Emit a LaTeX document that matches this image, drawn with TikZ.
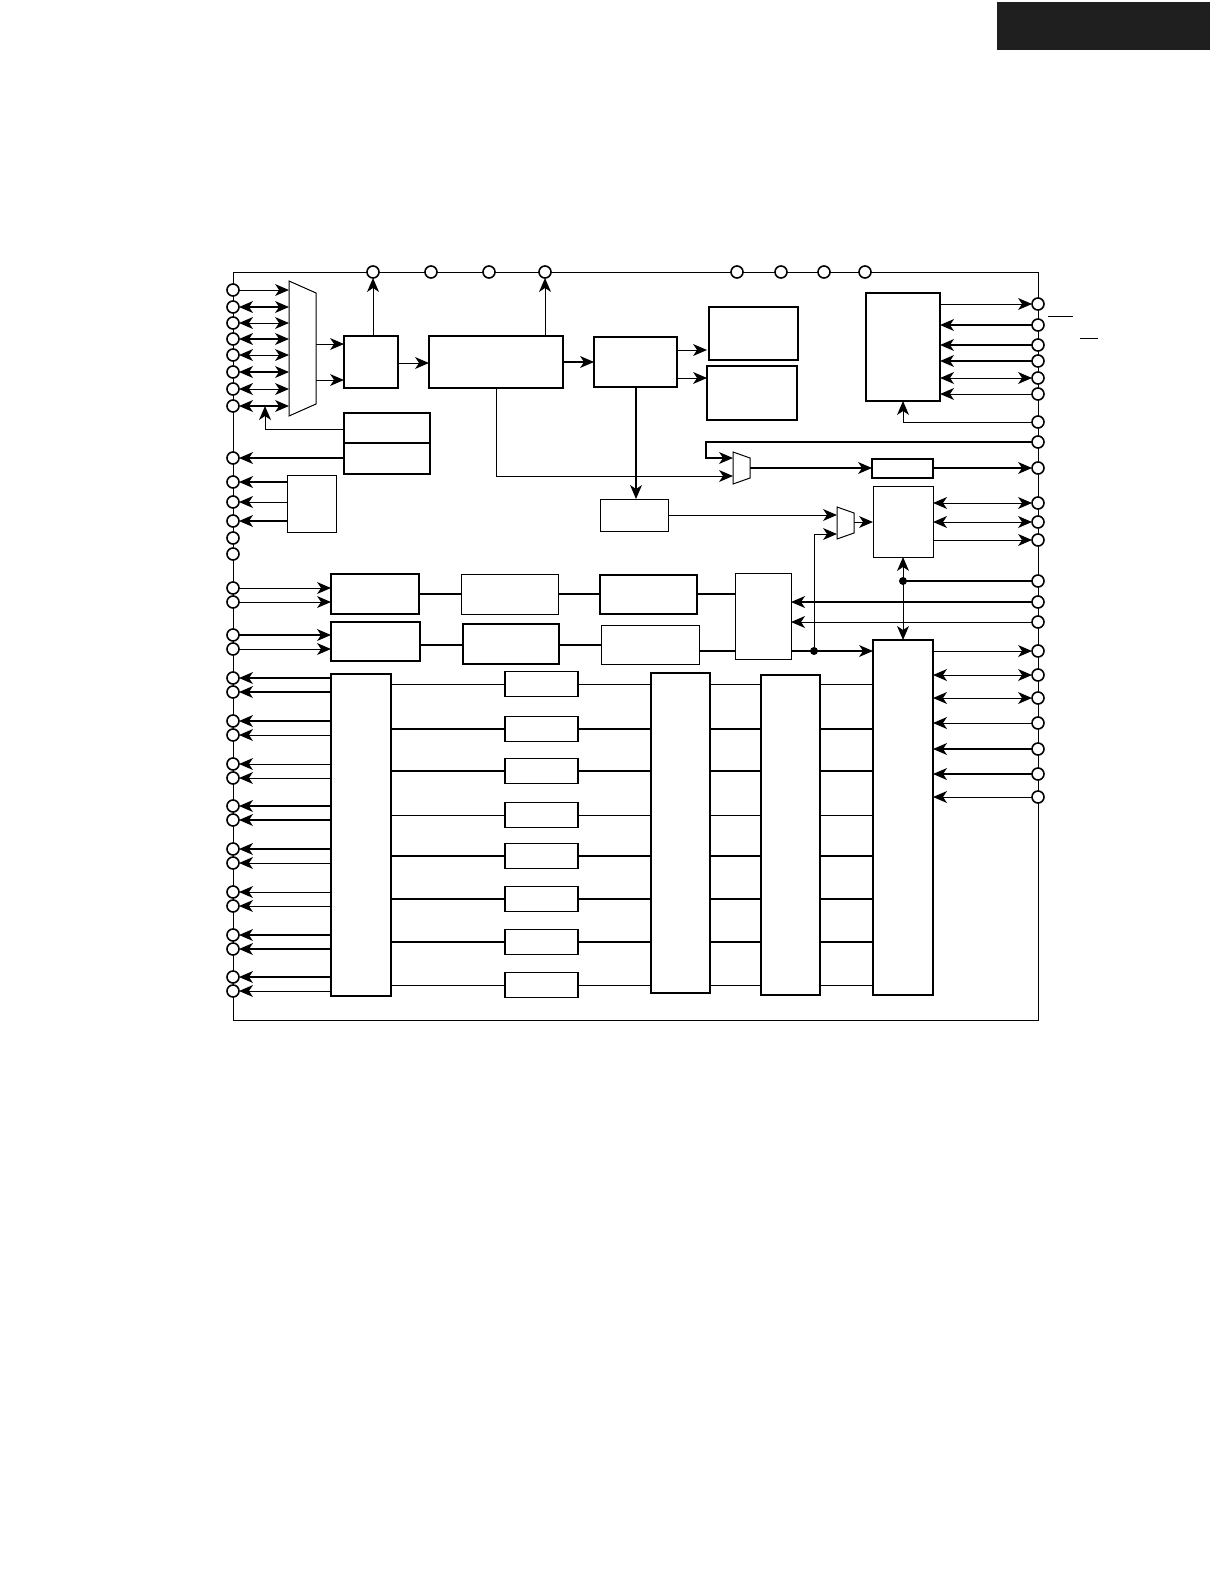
\documentclass[tikz,border=0pt]{standalone}
\usetikzlibrary{arrows.meta}
\begin{document}
\begin{tikzpicture}[x=1bp,y=-1bp,
  tn/.style={line width=1pt},
  tk/.style={line width=2.2pt},
  bx/.style={line width=1.7pt},
  >={Stealth[length=14bp,width=12bp,inset=4bp,line width=0pt]},
  pin/.style={circle,draw,line width=1.6pt,fill=white,minimum size=12bp,inner sep=0pt}]
\useasboundingbox (0,0) rectangle (1226,1586);
\fill[black!88] (997,2) rectangle (1210,50);
\draw[tn] (1048,316)--(1073,316) (1080,338)--(1098,338);
% border
\draw[tn] (233,272) rectangle (1038,1020);
% mux1
\draw[tn] (289,281)--(316,293)--(316,404)--(289,416)--cycle;
\draw[tn,->] (239,290)--(289,290);
\foreach \y/\s in {307/tk,323/tn,339/tk,355/tn,372/tk,389/tn,406/tk}{\draw[\s,<->] (239,\y)--(289,\y);}
% block A,B,C
\draw[bx] (344,336) rectangle (398,388);
\draw[tn,->] (316,344)--(344,344);
\draw[tn,->] (316,380)--(344,380);
\draw[tn,->] (373,336)--(373,278);
\draw[tn,->] (398,363)--(429,363);
\draw[bx] (429,336) rectangle (563,388);
\draw[tn,->] (545,336)--(545,278);
\draw[tk,->] (563,362)--(594,362);
\draw[bx] (594,337) rectangle (677,387);
\draw[tn,->] (677,350)--(707,350);
\draw[tn,->] (677,378)--(707,378);
\draw[bx] (709,307) rectangle (798,360);
\draw[bx] (707,366) rectangle (797,420);
\draw[tn] (496,388)--(496,476);
\draw[tn,->] (496,476)--(733,476);
\draw[tk,->] (636,387)--(636,499);
\draw[tn] (600,499) rectangle (668,531);
% blocks near left
\draw[bx] (344,413) rectangle (430,443);
\draw[bx] (344,443) rectangle (430,474);
\draw[tn,->] (344,429)--(265,429)--(265,406);
\draw[tk,->] (344,458)--(239,458);
\draw[tn] (287,475) rectangle (336,532);
\draw[tk,->] (287,482)--(239,482);
\draw[tn,->] (287,502)--(239,502);
\draw[tk,->] (287,521)--(239,521);
% mux2
\draw[tn] (733,452)--(750,458)--(750,478)--(733,484)--cycle;
\draw[tk,->] (1032,442)--(706,442)--(706,458)--(733,458);
\draw[tk,->] (750,468)--(872,468);
\draw[bx] (872,459) rectangle (933,478);
\draw[tk,->] (933,468)--(1032,468);
% mux3
\draw[tn] (837,507)--(854,513)--(854,533)--(837,539)--cycle;
\draw[tn,->] (668,515)--(837,515);
\draw[tn,->] (814,651)--(814,534)--(837,534);
\draw[tn,->] (854,522)--(873,522);
\draw[tn] (873,486) rectangle (933,557);
\draw[tn,<->] (933,503)--(1032,503);
\draw[tn,<->] (933,522)--(1032,522);
\draw[tn,->] (933,540)--(1032,540);
% block I
\draw[bx] (866,293) rectangle (940,401);
\draw[tn,->] (940,304)--(1032,304);
\draw[tk,->] (1032,325)--(940,325);
\draw[tk,->] (1032,345)--(940,345);
\draw[tk,->] (1032,361)--(940,361);
\draw[tn,<->] (940,378)--(1032,378);
\draw[tn,->] (1032,394)--(940,394);
\draw[tn,->] (1032,422)--(903,422)--(903,401);
% vertical double arrow & dot
\draw[tn,<->] (903,557)--(903,640);
\fill (903,581) circle (4bp);
\draw[tk] (903,581)--(1032,581);
% K
\draw[tn] (735,573) rectangle (791,659);
\draw[tk,->] (1032,602)--(791,602);
\draw[tn,->] (1032,622)--(791,622);
\draw[tk,->] (791,651)--(873,651);
\fill (814,651) circle (4bp);
% rows
\draw[bx] (331,574) rectangle (419,614);
\draw[tn] (461,574) rectangle (558,614);
\draw[bx] (600,575) rectangle (697,614);
\draw[tk] (419,594)--(461,594) (558,594)--(600,594) (697,594)--(735,594);
\draw[bx] (331,622) rectangle (420,661);
\draw[bx] (463,624) rectangle (559,664);
\draw[tn] (601,625) rectangle (699,664);
\draw[tk] (420,645)--(463,645) (559,645)--(601,645) (699,651)--(735,651);
\draw[tn,->] (239,588)--(331,588);
\draw[tn,->] (239,602)--(331,602);
\draw[tk,->] (239,635)--(331,635);
\draw[tn,->] (239,649)--(331,649);
% J
\draw[bx] (873,640) rectangle (933,995);
\draw[tn,->] (933,651)--(1032,651);
\draw[tn,<->] (933,675)--(1032,675);
\draw[tn,<->] (933,698)--(1032,698);
\draw[tn,->] (1032,723)--(933,723);
\draw[tk,->] (1032,749)--(933,749);
\draw[tk,->] (1032,774)--(933,774);
\draw[tn,->] (1032,797)--(933,797);
% columns
\draw[bx] (331,674) rectangle (391,996);
\draw[bx] (651,673) rectangle (710,993);
\draw[bx] (761,675) rectangle (820,995);
\foreach \y/\s in {684/tn,729/tk,771/tk,815/tn,856/tk,899/tk,942/tk,985/tn}{
  \draw[\s] (391,\y)--(505,\y) (578,\y)--(651,\y) (710,\y)--(761,\y) (820,\y)--(873,\y);
  \draw[bx] (505,\y-12.5) rectangle (578,\y+12.5);
}
\foreach \y/\s in {678/tk,692/tk,721/tk,735/tn,764/tn,778/tn,806/tk,820/tk,849/tk,863/tn,892/tn,906/tn,935/tk,949/tk,977/tk,991/tn}{
  \draw[\s,->] (331,\y)--(239,\y);
}
% pins
\foreach \y in {290,307,323,339,355,372,389,406,458,482,502,521,538,554,588,602,635,649,678,692,721,735,764,778,806,820,849,863,892,906,935,949,977,991}{\node[pin] at (233,\y) {};}
\foreach \x in {373,431,489,545,737,781,824,865}{\node[pin] at (\x,272) {};}
\foreach \y in {304,325,345,361,378,394,422,442,468,503,522,540,581,602,622,651,675,698,723,749,774,797}{\node[pin] at (1038,\y) {};}
\end{tikzpicture}
\end{document}
